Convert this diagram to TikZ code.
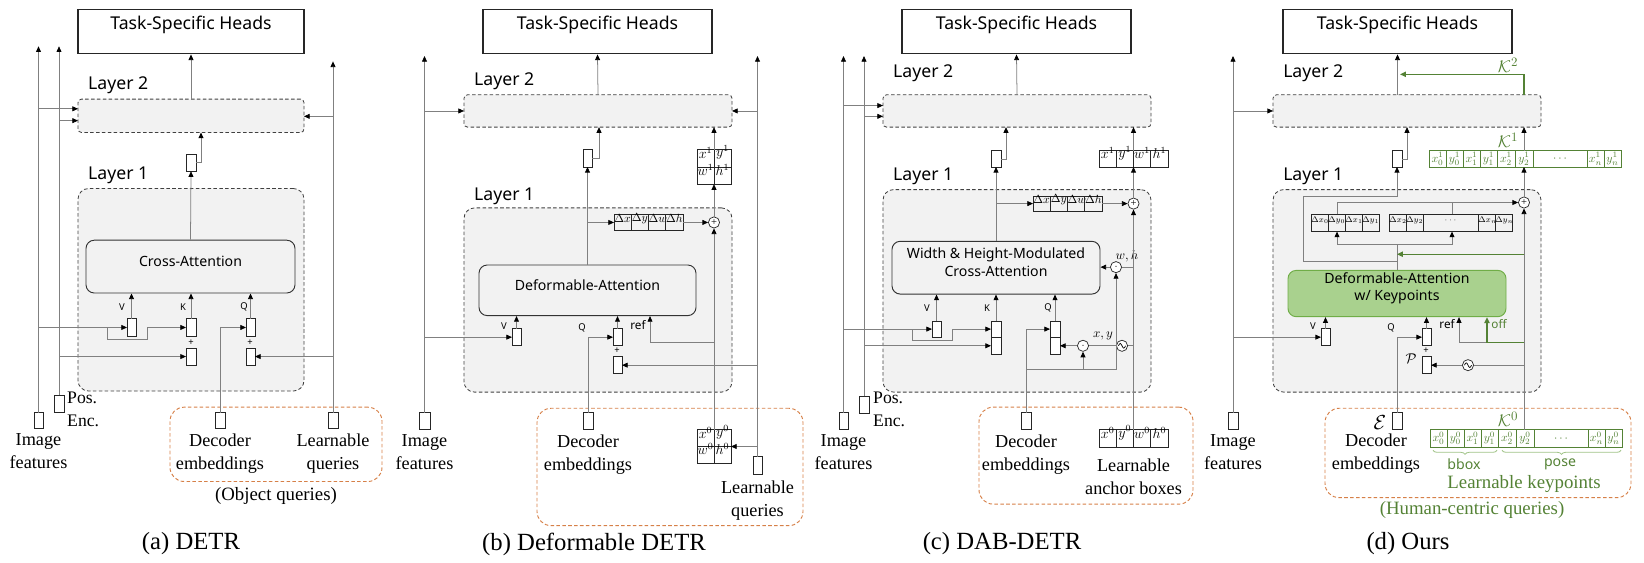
\documentclass[tikz,border=0pt]{standalone}
\usepackage{fontspec}
\setmainfont{Liberation Serif}
\newfontfamily\nsans{Noto Sans}
\usetikzlibrary{arrows.meta,fit,decorations.pathreplacing,calc}
\definecolor{kgreen}{RGB}{84,130,53}
\definecolor{dafill}{RGB}{169,209,142}
\definecolor{daborder}{RGB}{112,173,71}
\definecolor{qorange}{RGB}{214,128,72}
\definecolor{lgray}{RGB}{242,242,242}
\definecolor{lgreen}{RGB}{160,195,135}
\begin{document}
\begin{tikzpicture}[x=0.85pt,y=-0.9156pt,
  conn/.style={draw=black!50,line width=0.65pt},
  arr/.style={conn,-{Triangle[length=4.8pt,width=4.2pt,color=black]}},
  garr/.style={draw=kgreen,line width=1.1pt,-{Triangle[length=5pt,width=4.5pt,color=kgreen]}},
  feat/.style={draw=black!85,fill=white,line width=0.7pt,inner sep=0pt,outer sep=0pt},
  cell/.style={draw=black!85,line width=0.6pt,inner sep=0pt,outer sep=0pt,font=\fontsize{10}{10}\selectfont},
  layerbox/.style={draw=black!75,dash pattern=on 3pt off 2pt,fill=lgray,line width=0.7pt,inner sep=0pt,outer sep=0pt},
  heads/.style={draw=black!85,line width=1pt,inner sep=0pt,font=\nsans\fontsize{15}{18}\selectfont},
  attn/.style={draw=black!80,line width=0.8pt,fill=lgray,rounded corners=7pt,inner sep=0pt,font=\nsans\fontsize{12}{15}\selectfont,align=center},
  qbox/.style={draw=qorange,dash pattern=on 3pt off 2pt,line width=0.8pt,rounded corners=12pt,inner sep=0pt},
  lay/.style={font=\nsans\fontsize{15}{18}\selectfont,anchor=west,inner sep=0pt},
  tinylab/.style={font=\nsans\fontsize{8}{9}\selectfont,inner sep=0pt},
  smalllab/.style={font=\nsans\fontsize{10}{11}\selectfont,inner sep=0pt},
  lab/.style={font=\fontsize{15.5}{19.5}\selectfont,align=center,inner sep=0pt,anchor=north},
  poslab/.style={font=\fontsize{15}{19}\selectfont,align=left,inner sep=0pt,anchor=north west},
  captext/.style={font=\fontsize{21}{24}\selectfont,inner sep=0pt},
  circ/.style={circle,draw=black!85,fill=white,line width=0.6pt,minimum size=9.5pt,inner sep=0pt,font=\fontsize{9}{9}\selectfont},
  gtxt/.style={inner sep=0pt,text=kgreen,font=\fontsize{10}{10}\selectfont},
]
\useasboundingbox (0,0) rectangle (1644,522.6);

% ================= PANEL A =================
\node[heads,fit={(78,9)(304,50)}] (ha) {Task-Specific Heads};
\node[lay] (al2) at (88,79) {Layer 2};
\node[layerbox,rounded corners=3pt,fit={(78,92)(304,123)}] (a2) {};
\node[lay] (al1) at (88,163) {Layer 1};
\node[layerbox,rounded corners=9pt,fit={(78,175)(304,363)}] (a1) {};
\node[attn,fit={(86,223)(295,272)}] (aca) {Cross-Attention};
\node[feat,fit={(186,143)(196,159)}] (ao) {};
\node[feat,fit={(127,296)(136,312)}] (av) {};
\node[feat,fit={(186,296)(196,312)}] (ak) {};
\node[feat,fit={(186,323)(196,339)}] (ak2) {};
\node[feat,fit={(246,296)(255,312)}] (aq) {};
\node[feat,fit={(246,323)(255,339)}] (aq2) {};
\node[tinylab] (avl) at (122,285) {V};
\node[tinylab] (akl) at (183,285) {K};
\node[tinylab] (aql) at (244,285) {Q};
\node[tinylab] (ap1) at (191,318) {+};
\node[tinylab] (ap2) at (250,318) {+};
\node[feat,fit={(34,383)(43,398)}] (aimg) {};
\node[feat,fit={(54,367)(64,383)}] (apos) {};
\node[feat,fit={(215,383)(225,398)}] (adec) {};
\node[feat,fit={(328,383)(338,398)}] (alq) {};
\node[lab] (aimgt) at ([yshift=-4pt]aimg.south) {Image\\features};
\node[poslab] (apost) at (67,364) {Pos.\\Enc.};
\node[lab] (adect) at ([yshift=-4pt]adec.south) {Decoder\\embeddings};
\node[lab] (alqt) at ([yshift=-4pt]alq.south) {Learnable\\queries};
\node[qbox,fit={(170,378)(382,447)}] (aob) {};
\node[font=\fontsize{16}{19}\selectfont,inner sep=0pt] (aobt) at (276,460) {(Object queries)};
\node[captext] (acap) at (191,505) {(a) DETR};

\draw[arr] (aimg.north) -- (aimg.north |- 0,43);
\draw[arr] (apos.north) -- (apos.north |- 0,43);
\draw[arr] (alq.north) -- (alq.north |- 0,57);
\draw[arr] (aimg.north |- 0,101) -- (a2.west |- 0,101);
\draw[arr] (apos.north |- 0,112) -- (a2.west |- 0,112);
\draw[arr] (alq.north |- 0,108) -- (a2.east |- 0,108);
\draw[arr] (a2.north) -- (ha.south);
\draw[arr] (ao.east) -| (201,0 |- a2.south);
\draw[arr] (aca.north) -- (ao.south);
\draw[arr] (av.north) -- (av.north |- aca.south);
\draw[arr] (ak.north) -- (ak.north |- aca.south);
\draw[arr] (aq.north) -- (aq.north |- aca.south);
\draw[arr] (aimg.north |- av.west) -- (av.west);
\draw[arr] (107,0 |- av.west) |- (147,315) |- (ak.west);
\draw[arr] (apos.north |- ak2.west) -- (ak2.west);
\draw[arr] (adec.north) |- (aq.west);
\draw[arr] (alq.north |- aq2.east) -- (aq2.east);

% ================= PANEL B =================
\node[heads,fit={(483,9)(712,50)}] (hb) {Task-Specific Heads};
\node[lay] (bl2) at (474,75) {Layer 2};
\node[layerbox,rounded corners=3pt,fit={(464,88)(732,118)}] (b2) {};
\node[lay] (bl1) at (474,182) {Layer 1};
\node[layerbox,rounded corners=9pt,fit={(464,193)(732,364)}] (b1) {};
\node[attn,fit={(479,246)(696,293)}] (bda) {Deformable-Attention};
\node[feat,fit={(583,139)(592,155)}] (bo) {};
\foreach \tx [count=\i] in {\Delta x,\Delta y,\Delta w,\Delta h}
  \node[cell,fit={({614+(\i-1)*17.25},199)({614+\i*17.25},214)}] (bd\i) {$\tx$};
\node[circ] (bplus) at (714,206.5) {+};
\node[cell,font=\fontsize{12}{12}\selectfont,fit={(697,139)(714,155)}] (bxa) {$x^1$};
\node[cell,font=\fontsize{12}{12}\selectfont,fit={(714,139)(731,155)}] (bya) {$y^1$};
\node[cell,font=\fontsize{12}{12}\selectfont,fit={(697,155)(714,171)}] (bwa) {$w^1$};
\node[cell,font=\fontsize{12}{12}\selectfont,fit={(714,155)(731,171)}] (bha) {$h^1$};
\node[inner sep=0pt,outer sep=0pt,fit={(697,139)(731,171)}] (bx1) {};
\node[cell,fill=white,font=\fontsize{12}{12}\selectfont,fit={(697,399)(714,414.5)}] (bxb) {$x^0$};
\node[cell,fill=white,font=\fontsize{12}{12}\selectfont,fit={(714,399)(731,414.5)}] (byb) {$y^0$};
\node[cell,fill=white,font=\fontsize{12}{12}\selectfont,fit={(697,414.5)(714,430)}] (bwb) {$w^0$};
\node[cell,fill=white,font=\fontsize{12}{12}\selectfont,fit={(714,414.5)(731,430)}] (bhb) {$h^0$};
\node[inner sep=0pt,outer sep=0pt,fit={(697,399)(731,430)}] (bx0) {};
\node[feat,fit={(512,305)(521,321)}] (bv) {};
\node[feat,fit={(613,305)(622,321)}] (bq) {};
\node[feat,fit={(613,331)(622,347)}] (bq2) {};
\node[tinylab] (bvl) at (504,303) {V};
\node[tinylab] (bql) at (582,304) {Q};
\node[tinylab] (bpl) at (617,326) {+};
\node[smalllab] (brefl) at (638,302) {ref};
\node[feat,fit={(419,383)(430,399)}] (bimg) {};
\node[feat,fit={(583,383)(593,399)}] (bdec) {};
\node[feat,fit={(753,424)(762,440)}] (blq) {};
\node[lab] (bimgt) at ([yshift=-4pt]bimg.south) {Image\\features};
\node[lab] (bdect) at ([yshift=-4pt]bdec.south) {Decoder\\embeddings};
\node[lab] (blqt) at ([yshift=-6pt]blq.south) {Learnable\\queries};
\node[qbox,fit={(537,379)(803,488)}] (bob) {};
\node[captext] (bcap) at (594,505) {(b) Deformable DETR};

\draw[arr] (bimg.north) -- (bimg.north |- 0,52);
\draw[arr] (blq.north) -- (blq.north |- 0,52);
\draw[arr] (bimg.north |- 0,103) -- (b2.west |- 0,103);
\draw[arr] (blq.north |- 0,103) -- (b2.east |- 0,103);
\draw[arr] (b2.north) -- (hb.south);
\draw[arr] (bo.east) -| (599,0 |- b2.south);
\draw[arr] (bda.north) -- (bo.south);
\draw[arr] (bda.north |- bd1.west) -- (bd1.west);
\draw[arr] (bd4.east) -- (bplus.west);
\draw[arr] (bplus.north) -- (bx1.south);
\draw[arr] (bx1.north) -- (bx1.north |- b2.south);
\draw[arr] (bx0.north) -- (bplus.south);
\draw[arr] (blq.north |- bx0.east) -- (bx0.east);
\draw[arr] (bx0.north |- 0,318) -| (650,0 |- bda.south);
\draw[arr] (bv.north) -- (bv.north |- bda.south);
\draw[arr] (bq.north) -- (bq.north |- bda.south);
\draw[arr] (bimg.north |- bv.west) -- (bv.west);
\draw[arr] (bdec.north) |- (bq.west);
\draw[arr] (blq.north |- bq2.east) -- (bq2.east);

% ================= PANEL C =================
\node[heads,fit={(902,9)(1131,50)}] (hc) {Task-Specific Heads};
\node[lay] (cl2) at (893,68) {Layer 2};
\node[layerbox,rounded corners=3pt,fit={(883,88)(1151,118)}] (c2) {};
\node[lay] (cl1) at (893,164) {Layer 1};
\node[layerbox,rounded corners=9pt,fit={(883,176)(1151,364)}] (c1) {};
\node[attn,fit={(892,224)(1100,273)}] (catt) {Width \& Height-Modulated\\Cross-Attention};
\node[feat,fit={(991,140)(1001,155)}] (co) {};
\foreach \tx [count=\i] in {x^1,y^1,w^1,h^1}
  \node[cell,fill=white,font=\fontsize{12}{12}\selectfont,fit={({1099+(\i-1)*17.25},140)({1099+\i*17.25},155)}] (cxa\i) {$\tx$};
\node[inner sep=0pt,outer sep=0pt,fit={(1099,140)(1168,155)}] (cx1) {};
\foreach \tx [count=\i] in {\Delta x,\Delta y,\Delta w,\Delta h}
  \node[cell,fit={({1033+(\i-1)*17.25},182)({1033+\i*17.25},196)}] (cd\i) {$\tx$};
\node[circ] (cplus) at (1133.5,189) {+};
\foreach \tx [count=\i] in {x^0,y^0,w^0,h^0}
  \node[cell,fill=white,font=\fontsize{12}{12}\selectfont,fit={({1099+(\i-1)*17.25},399)({1099+\i*17.25},415)}] (cxb\i) {$\tx$};
\node[inner sep=0pt,outer sep=0pt,fit={(1099,399)(1168,415)}] (cx0) {};
\node[circ] (cwh) at (1116,248) {$\cdot$};
\node[font=\fontsize{11}{11}\selectfont,inner sep=0pt] (cwhl) at (1127,238) {$w,h$};
\node[circ] (cxy) at (1083,321) {$\cdot$};
\node[font=\fontsize{11}{11}\selectfont,inner sep=0pt] (cxyl) at (1103,312) {$x,y$};
\node[circ] (csin) at (1122,321) {};
\draw[line width=0.6pt] ([xshift=-3pt]csin.center) sin ++(1.5pt,2pt) cos ++(1.5pt,-2pt) sin ++(1.5pt,-2pt) cos ++(1.5pt,2pt);
\node[feat,fit={(932,298)(941,313)}] (cv) {};
\node[feat,fit={(991,298)(1001,313)}] (ck) {};
\node[feat,fit={(991,313)(1001,329)}] (ck2) {};
\node[feat,fit={(1050,298)(1060,313)}] (cq) {};
\node[feat,fit={(1050,313)(1060,329)}] (cq2) {};
\node[tinylab] (cvl) at (927,286) {V};
\node[tinylab] (ckl) at (987,286) {K};
\node[tinylab] (cql) at (1048,286) {Q};
\node[feat,fit={(839,383)(848,399)}] (cimg) {};
\node[feat,fit={(859,368)(869,384)}] (cpos) {};
\node[feat,fit={(1021,383)(1031,399)}] (cdec) {};
\node[lab] (cimgt) at ([yshift=-4pt]cimg.south) {Image\\features};
\node[poslab] (cpost) at (873,364) {Pos.\\Enc.};
\node[lab] (cdect) at ([yshift=-4pt]cdec.south) {Decoder\\embeddings};
\node[lab] (cx0t) at ([yshift=-10pt]cx0.south) {Learnable\\anchor boxes};
\node[qbox,fit={(979,378)(1193,468)}] (cob) {};
\node[captext] (ccap) at (1002,505) {(c) DAB-DETR};

\draw[arr] (cimg.north) -- (cimg.north |- 0,52);
\draw[arr] (cpos.north) -- (cpos.north |- 0,52);
\draw[arr] (cimg.north |- 0,98) -- (c2.west |- 0,98);
\draw[arr] (cpos.north |- 0,108) -- (c2.west |- 0,108);
\draw[arr] (c2.north) -- (hc.south);
\draw[arr] (co.east) -| (1006,0 |- c2.south);
\draw[arr] (catt.north) -- (co.south);
\draw[arr] (catt.north |- cd1.west) -- (cd1.west);
\draw[arr] (cd4.east) -- (cplus.west);
\draw[arr] (cplus.north) -- (cx1.south);
\draw[arr] (cx1.north) -- (cx1.north |- c2.south);
\draw[arr] (cx0.north) -- (cplus.south);
\draw[conn] (cx0.north |- cwh.east) -- (cwh.east);
\draw[arr] (cwh.west) -- (catt.east |- cwh.west);
\draw[conn] (cx0.north |- csin.east) -- (csin.east);
\draw[conn] (csin.west) -- (cxy.east);
\draw[arr] (cxy.west) -- (cq2.east);
\draw[arr] (cdec.north) |- (cq.west);
\draw[arr] (cdec.north |- 0,343) -| (cwh.south);
\draw[arr] (cxy.south |- 0,343) -- (cxy.south);
\draw[arr] (cv.north) -- (cv.north |- catt.south);
\draw[arr] (ck.north) -- (ck.north |- catt.south);
\draw[arr] (cq.north) -- (cq.north |- catt.south);
\draw[arr] (cimg.north |- cv.west) -- (cv.west);
\draw[arr] (912,0 |- cv.west) |- (952,316) |- (ck.west);
\draw[arr] (cpos.north |- ck2.west) -- (ck2.west);

% ================= PANEL D =================
\node[heads,fit={(1283,9)(1512,50)}] (hd) {Task-Specific Heads};
\node[lay] (dl2) at (1283,68) {Layer 2};
\node[layerbox,rounded corners=3pt,fit={(1273,88)(1541,118)}] (d2) {};
\node[lay] (dl1) at (1283,164) {Layer 1};
\node[layerbox,rounded corners=9pt,fit={(1273,176)(1541,364)}] (d1) {};
\node[attn,fill=dafill,draw=daborder,fit={(1288,251)(1506,294)}] (dda) {Deformable-Attention\\w/ Keypoints};
\node[feat,fit={(1392,140)(1402,155)}] (do) {};
\foreach \a/\b/\tx [count=\i] in {1429/1446/x_0^1,1446/1463/y_0^1,1463/1480/x_1^1,1480/1497/y_1^1,1497/1515/x_2^1,1515/1533/y_2^1,1533/1587/\cdots,1587/1604/x_n^1,1604/1621/y_n^1}
  \draw[draw=kgreen,line width=0.6pt] (\a,140) rectangle (\b,155) node[midway,gtxt] (dxa\i) {$\tx$};
\node[inner sep=0pt,outer sep=0pt,fit={(1429,140)(1621,155)}] (dx1) {};
\foreach \a/\b/\tx [count=\i] in {1311/1328/\Delta x_0,1328/1345/\Delta y_0,1345/1362/\Delta x_1,1362/1379/\Delta y_1}
  \node[cell,font=\fontsize{7.5}{8}\selectfont,fit={(\a,199)(\b,215)}] (dga\i) {$\tx$};
\node[inner sep=0pt,outer sep=0pt,fit={(1311,199)(1379,215)}] (dg1) {};
\foreach \a/\b/\tx [count=\i] in {1389/1406/\Delta x_2,1406/1423/\Delta y_2,1423/1478/\cdots,1478/1495/\Delta x_n,1495/1512/\Delta y_n}
  \node[cell,font=\fontsize{7.5}{8}\selectfont,fit={(\a,199)(\b,215)}] (dgb\i) {$\tx$};
\node[inner sep=0pt,outer sep=0pt,fit={(1389,199)(1512,215)}] (dg2) {};
\node[circ] (dplus) at (1524,188) {+};
\fill[white] (1430,399) rectangle (1622,415);
\foreach \a/\b/\tx [count=\i] in {1430/1447/x_0^0,1447/1464/y_0^0,1464/1481/x_1^0,1481/1498/y_1^0,1498/1516/x_2^0,1516/1534/y_2^0,1534/1588/\cdots,1588/1605/x_n^0,1605/1622/y_n^0}
  \draw[draw=kgreen,line width=0.6pt] (\a,399) rectangle (\b,415) node[midway,gtxt] (dxb\i) {$\tx$};
\node[inner sep=0pt,outer sep=0pt,fit={(1430,399)(1622,415)}] (dk0) {};
\node[feat,fit={(1321,305)(1330,321)}] (dv) {};
\node[feat,fit={(1422,305)(1431,321)}] (dq) {};
\node[feat,fit={(1422,331)(1431,347)}] (dq2) {};
\node[circ] (dsin) at (1468,339) {};
\draw[line width=0.6pt] ([xshift=-3pt]dsin.center) sin ++(1.5pt,2pt) cos ++(1.5pt,-2pt) sin ++(1.5pt,-2pt) cos ++(1.5pt,2pt);
\node[tinylab] (dvl) at (1313,303) {V};
\node[tinylab] (dql) at (1391,304) {Q};
\node[tinylab] (dpl) at (1426,326) {+};
\node[font=\fontsize{12}{12}\selectfont,inner sep=0pt] (dpcal) at (1411,333) {$\mathcal{P}$};
\node[smalllab] (drefl) at (1447,301) {ref};
\node[smalllab,text=kgreen] (doffl) at (1499,301) {off};
\node[feat,fit={(1228,383)(1238,399)}] (dimg) {};
\node[feat,fit={(1392,383)(1402,399)}] (ddec) {};
\node[font=\fontsize{16}{16}\selectfont,inner sep=0pt] (decal) at (1380,392) {$\mathcal{E}$};
\node[font=\fontsize{15}{15}\selectfont,inner sep=0pt,text=kgreen] (dk0l) at (1508,389) {$\mathcal{K}^0$};
\node[font=\fontsize{15}{15}\selectfont,inner sep=0pt,text=kgreen] (dk1l) at (1508,130) {$\mathcal{K}^1$};
\node[font=\fontsize{15}{15}\selectfont,inner sep=0pt,text=kgreen] (dk2l) at (1508,61) {$\mathcal{K}^2$};
\draw[lgreen,line width=0.7pt,decorate,decoration={brace,mirror,amplitude=3.5pt}] (1433,418) -- (1497,418);
\draw[lgreen,line width=0.7pt,decorate,decoration={brace,mirror,amplitude=3.5pt}] (1502,418) -- (1621,418);
\node[font=\nsans\fontsize{12}{12}\selectfont,text=kgreen,inner sep=0pt] (dbbox) at (1464,431) {bbox};
\node[font=\nsans\fontsize{12}{12}\selectfont,text=kgreen,inner sep=0pt] (dpose) at (1560,431) {pose};
\node[font=\fontsize{16}{16}\selectfont,text=kgreen,inner sep=0pt] (dlk) at (1524,449) {Learnable keypoints};
\node[lab] (dimgt) at ([yshift=-4pt]dimg.south) {Image\\features};
\node[lab] (ddect) at (1376,403) {Decoder\\embeddings};
\node[qbox,fit={(1325,379)(1631,462)}] (dob) {};
\node[font=\fontsize{16}{19}\selectfont,text=kgreen,inner sep=0pt] (dhq) at (1472,473) {(Human-centric queries)};
\node[captext] (dcap) at (1408,505) {(d) Ours};

\draw[arr] (dimg.north) -- (dimg.north |- 0,52);
\draw[arr] (dimg.north |- 0,103) -- (d2.west |- 0,103);
\draw[arr] (hd.south |- d2.north) -- (hd.south);
\draw[garr] (dplus.north |- d2.north) |- (1400,69);
\draw[arr] (do.east) -| (1407,0 |- d2.south);
\draw[arr] (dplus.north |- dx1.north) -- (dplus.north |- d2.south);
\draw[arr] (dplus.north) -- (dplus.north |- dx1.south);
\draw[arr] (dplus.south |- dk0.north) -- (dplus.south);
\draw[conn] (dda.north) -- (dda.north |- 0,227);
\draw[arr] (dda.north |- 0,227) -| (1337,0 |- dg1.south);
\draw[arr] (dda.north |- 0,227) -| (1452,0 |- dg2.south);
\draw[arr] (1337,0 |- dg1.north) |- (dplus.west);
\draw[conn] (1452,0 |- dg2.north) -- (1452,0 |- dplus.west);
\draw[arr] (dda.north |- 0,243) -| (1303,182) -| (do.south);
\draw[garr] (dplus.south |- 0,236) -- (dda.north |- 0,236);
\draw[arr] (dv.north) -- (dv.north |- dda.south);
\draw[arr] (dq.north) -- (dq.north |- dda.south);
\draw[arr] (dimg.north |- dv.west) -- (dv.west);
\draw[arr] (ddec.north) |- (dq.west);
\draw[conn] (dplus.south |- dsin.east) -- (dsin.east);
\draw[arr] (dsin.west) -- (dq2.east);
\draw[arr] (1487,318) -| (1459,0 |- dda.south);
\draw[garr] (dplus.south |- 0,318) -| (1487,0 |- dda.south);
\end{tikzpicture}
\end{document}
